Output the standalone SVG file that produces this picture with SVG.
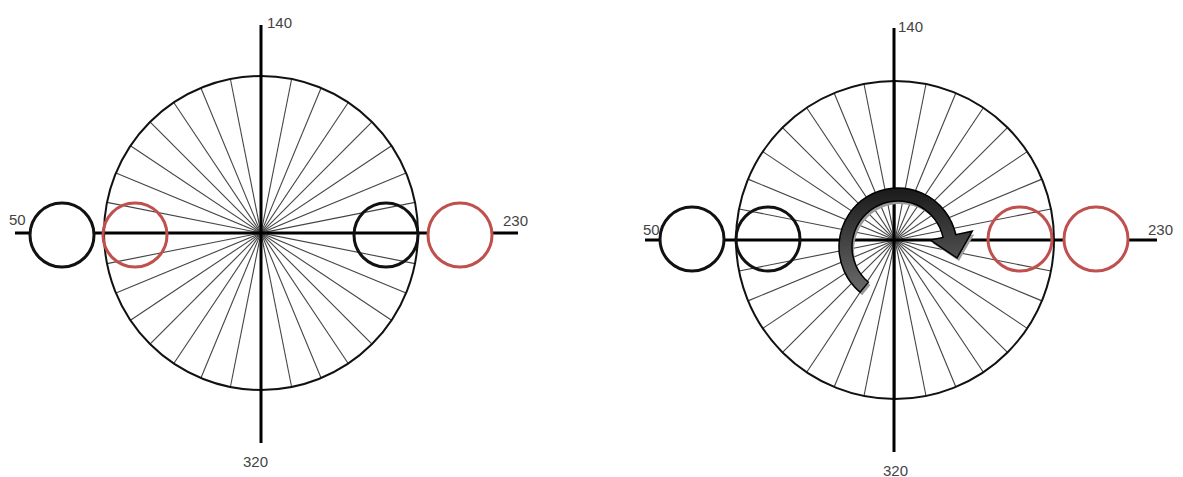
<svg xmlns="http://www.w3.org/2000/svg" xmlns:xlink="http://www.w3.org/1999/xlink" width="1183" height="477" viewBox="0 0 1183 477">
<style>
.spoke{stroke:#444;stroke-width:1.1;fill:none}
.big{fill:none;stroke:#111;stroke-width:2}
.axis{stroke:#000;stroke-width:3;fill:none}
.blk{stroke:#111;stroke-width:3}
.red{stroke:#c0504d;stroke-width:3}
.open{fill:none}
.filled{fill:#fff}
.lbl{font-family:"Liberation Sans",Arial,sans-serif;font-size:15px;fill:#444}
</style>
<defs>
<line id="d" class="spoke" x1="-157" y1="0" x2="157" y2="0"/>
<g id="wheel">
<use xlink:href="#d"/>
<use xlink:href="#d" transform="rotate(11.25)"/>
<use xlink:href="#d" transform="rotate(22.5)"/>
<use xlink:href="#d" transform="rotate(33.75)"/>
<use xlink:href="#d" transform="rotate(45)"/>
<use xlink:href="#d" transform="rotate(56.25)"/>
<use xlink:href="#d" transform="rotate(67.5)"/>
<use xlink:href="#d" transform="rotate(78.75)"/>
<use xlink:href="#d" transform="rotate(90)"/>
<use xlink:href="#d" transform="rotate(101.25)"/>
<use xlink:href="#d" transform="rotate(112.5)"/>
<use xlink:href="#d" transform="rotate(123.75)"/>
<use xlink:href="#d" transform="rotate(135)"/>
<use xlink:href="#d" transform="rotate(146.25)"/>
<use xlink:href="#d" transform="rotate(157.5)"/>
<use xlink:href="#d" transform="rotate(168.75)"/>
</g>
<linearGradient id="ag" x1="0" y1="0" x2="0" y2="1">
<stop offset="0" stop-color="#1a1a1a"/>
<stop offset="0.6" stop-color="#4a4a4a"/>
<stop offset="1" stop-color="#6a6a6a"/>
</linearGradient>
</defs>

<g id="left-dial">
<use xlink:href="#wheel" transform="translate(261,233)"/>
<circle class="big" cx="261" cy="233" r="157"/>
</g>
<g id="right-dial">
<use xlink:href="#wheel" transform="translate(895,240) scale(1.013)"/>
<circle class="big" cx="895" cy="240" r="159"/>
</g>

<g id="connectors">
<line class="axis" x1="261" y1="25" x2="261" y2="443"/>
<line class="axis" x1="15" y1="233" x2="518" y2="233"/>
<line class="axis" x1="894" y1="28" x2="894" y2="452"/>
<line class="axis" x1="645" y1="240" x2="1157" y2="240"/>
</g>

<g id="left-circles">
<circle id="l-black-out" class="blk filled" cx="62" cy="235" r="32"/>
<circle id="l-red-in" class="red open" cx="135" cy="235" r="32"/>
<circle id="l-black-in" class="blk open" cx="386" cy="235" r="32"/>
<circle id="l-red-out" class="red filled" cx="460" cy="235" r="32"/>
</g>
<g id="right-circles">
<circle id="r-black-out" class="blk filled" cx="692" cy="239" r="32"/>
<circle id="r-black-in" class="blk open" cx="768" cy="239" r="32"/>
<circle id="r-red-in" class="red open" cx="1020" cy="239" r="32"/>
<circle id="r-red-out" class="red filled" cx="1096" cy="239" r="32"/>
</g>

<g id="rotation-arrow">
<path transform="translate(2,3)" fill="#9a9a9a" d="M860.1,292.2 A59,59 0 1 1 955.7,234.7 L972.3,231.2 L957,258 L930.3,240.1 L943,237.4 A46,46 0 1 0 868.4,282.2 Z"/>
<path fill="url(#ag)" stroke="#000" stroke-width="1.5" stroke-linejoin="miter" d="M860.1,292.2 A59,59 0 1 1 955.7,234.7 L972.3,231.2 L957,258 L930.3,240.1 L943,237.4 A46,46 0 1 0 868.4,282.2 Z"/>
</g>

<g id="labels">
<text class="lbl" x="267" y="28">140</text>
<text class="lbl" x="9" y="225">50</text>
<text class="lbl" x="503" y="226">230</text>
<text class="lbl" x="243" y="467">320</text>
<text class="lbl" x="898" y="32">140</text>
<text class="lbl" x="643" y="235">50</text>
<text class="lbl" x="1148" y="235">230</text>
<text class="lbl" x="883" y="476">320</text>
</g>
</svg>
